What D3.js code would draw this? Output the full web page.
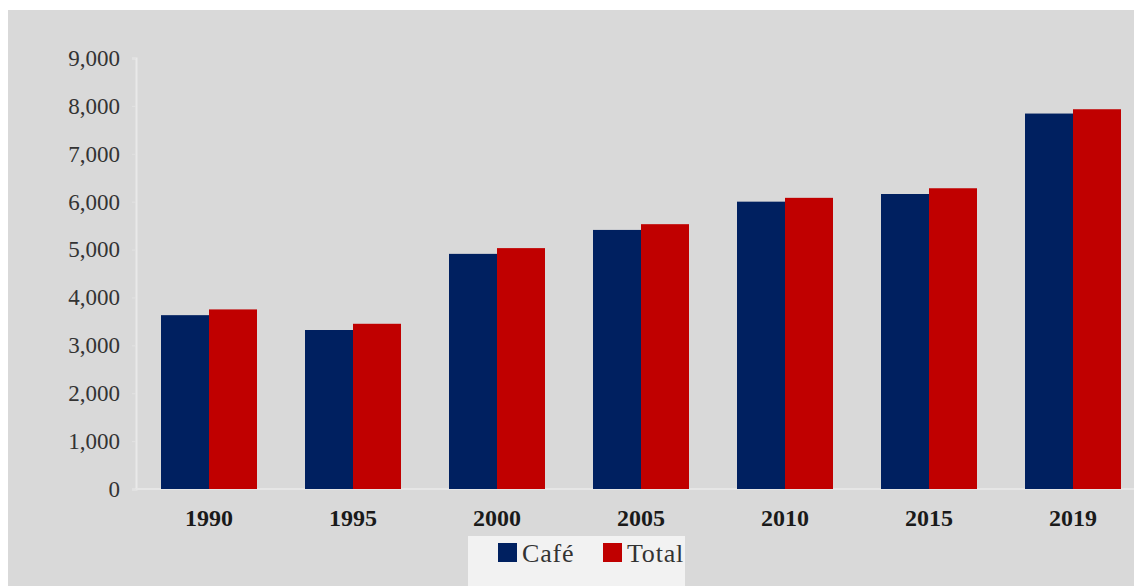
<!DOCTYPE html>
<html>
<head>
<meta charset="utf-8">
<script src="https://cdn.jsdelivr.net/npm/d3@7"></script>
<style>
    body { margin: 0; background: #fff; }
    svg { display: block; }
    .ytick text { font-family: 'Liberation Serif', 'Times New Roman', serif; font-size: 23px; fill: #333; }
    .xtick text { font-family: 'Liberation Serif', 'Times New Roman', serif; font-size: 24px; font-weight: bold; fill: #1a1a1a; }
    .legend text { font-family: 'Liberation Serif', 'Times New Roman', serif; font-size: 26px; letter-spacing: 0.8px; fill: #333; }
</style>
</head>
<body>
<div id="chart"></div>
<script>
'use strict';
const years = ['1990', '1995', '2000', '2005', '2010', '2015', '2019']
const cafe = [3630, 3320, 4910, 5410, 6000, 6160, 7840]
const total = [3750, 3450, 5030, 5530, 6080, 6280, 7930]
const seriesNames = ['Café', 'Total']
const seriesColors = ['#002060', '#c00000']
const yTicks = [0, 1000, 2000, 3000, 4000, 5000, 6000, 7000, 8000, 9000]

const W = 1134, H = 586
const svg = d3.select('#chart').append('svg')
    .attr('width', W)
    .attr('height', H)

svg.append('rect') // gray chart area
    .attr('x', 8).attr('y', 10)
    .attr('width', W - 8).attr('height', H - 10)
    .attr('fill', '#d9d9d9')

const y = d3.scaleLinear()
    .domain([0, 9000])
    .range([489, 58])
const x = d3.scaleBand()
    .domain(years)
    .range([137, 1145])
    .paddingInner(1 / 3)
    .paddingOuter(1 / 6)
const xs = d3.scaleBand()
    .domain(seriesNames)
    .range([0, x.bandwidth()])

// y axis
const yAxis = svg.append('g')
    .attr('class', 'ytick')
    .attr('transform', 'translate(136,0)')
    .call(d3.axisLeft(y).tickValues(yTicks).tickSize(4).tickPadding(12)
        .tickFormat(d3.format(',')))
yAxis.select('.domain').attr('stroke', '#e9e9e9').attr('stroke-width', 2)
yAxis.selectAll('.tick line').attr('stroke', '#e2e2e2')

// baseline
svg.append('line')
    .attr('x1', 136).attr('x2', W)
    .attr('y1', y(0)).attr('y2', y(0))
    .attr('stroke', '#e6e6e6').attr('stroke-width', 2)

// bars
const rows = years.map((yr, i) => ({ year: yr, values: [cafe[i], total[i]] }))
const groups = svg.append('g').selectAll('g')
    .data(rows).enter().append('g')
    .attr('transform', d => `translate(${x(d.year)},0)`)
groups.selectAll('rect')
    .data(d => d.values.map((v, j) => ({ name: seriesNames[j], value: v, color: seriesColors[j] })))
    .enter().append('rect')
    .attr('x', d => xs(d.name))
    .attr('width', xs.bandwidth())
    .attr('y', d => y(d.value))
    .attr('height', d => y(0) - y(d.value))
    .attr('fill', d => d.color)

// x axis labels
const xAxis = svg.append('g')
    .attr('class', 'xtick')
    .attr('transform', `translate(0,${y(0)})`)
    .call(d3.axisBottom(x).tickSize(0).tickPadding(20))
xAxis.select('.domain').remove()

// legend
const legend = svg.append('g').attr('class', 'legend')
legend.append('rect')
    .attr('x', 468).attr('y', 536)
    .attr('width', 217).attr('height', 50)
    .attr('fill', '#f2f2f2')
const legendX = [498, 603]
seriesNames.forEach((n, i) => {
    legend.append('rect')
        .attr('x', legendX[i]).attr('y', 543)
        .attr('width', 19).attr('height', 19)
        .attr('fill', seriesColors[i])
    legend.append('text')
        .attr('x', legendX[i] + 24).attr('y', 562)
        .text(n)
})
</script>
</body>
</html>
